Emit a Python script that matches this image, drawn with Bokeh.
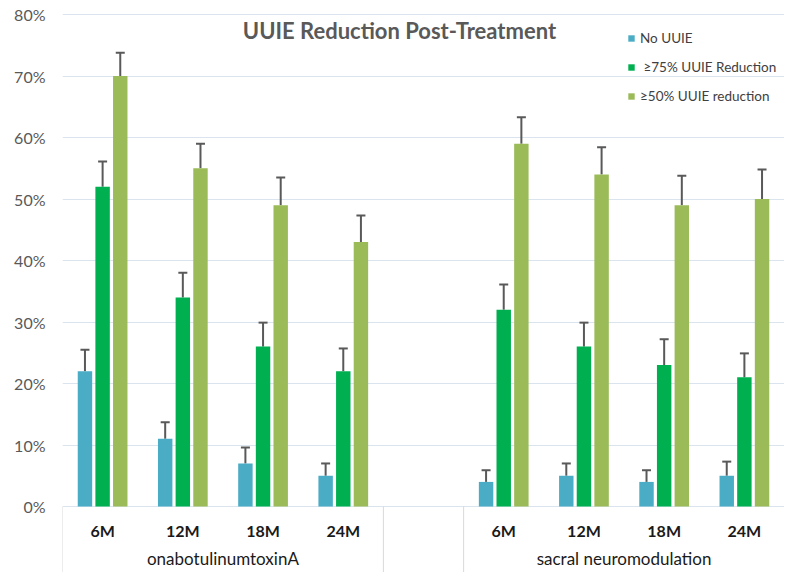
from bokeh.plotting import figure
from bokeh.models import (Range1d, FixedTicker, Whisker, TeeHead, ColumnDataSource,
                          Legend, LegendItem, Label, PrintfTickFormatter)
from bokeh.core.properties import value
from bokeh.embed import file_html
from bokeh.resources import INLINE

# ---- data ----
groups = ["onabotulinumtoxinA", "sacral neuromodulation"]
months = ["6M", "12M", "18M", "24M"]
series = ["No UUIE", " \u226575% UUIE Reduction", "\u226550% UUIE reduction"]
no_uuie = [22, 11, 7, 5, 4, 5, 4, 5]
red75 = [52, 34, 26, 22, 32, 26, 23, 21]
red50 = [70, 55, 49, 43, 59, 54, 49, 50]
no_uuie_hi = [25.5, 13.7, 9.6, 7.0, 5.9, 7.0, 5.9, 7.3]
red75_hi = [56.1, 38.0, 29.9, 25.7, 36.1, 29.9, 27.2, 24.9]
red50_hi = [73.8, 59.0, 53.5, 47.3, 63.3, 58.4, 53.8, 54.8]
y_ticks = [0, 10, 20, 30, 40, 50, 60, 70, 80]

colors = ["#4BACC6", "#00B050", "#9BBB59"]
FONT = "Lato"
Y_TOP, Y_BOT = 82.28, -10.73

# slot positions: 4 months per group, one empty slot between groups
slots = [g * (len(months) + 1) + m for g in range(len(groups)) for m in range(len(months))]
n_slots = len(groups) * len(months) + 1

p = figure(width=784, height=572, output_backend="svg", toolbar_location=None,
           x_range=Range1d(-0.5, n_slots - 0.5), y_range=Range1d(Y_BOT, Y_TOP),
           min_border_left=62, min_border_right=0, min_border_top=0, min_border_bottom=0)
p.outline_line_color = None
p.xaxis.visible = False
p.xgrid.visible = False
p.ygrid.ticker = FixedTicker(ticks=y_ticks)
p.ygrid.grid_line_color = "#d9e4ef"
p.ygrid.grid_line_width = 1
p.yaxis.ticker = FixedTicker(ticks=y_ticks)
p.yaxis.formatter = PrintfTickFormatter(format="%d%%")
p.yaxis.axis_line_color = None
p.yaxis.major_tick_line_color = None
p.yaxis.minor_tick_line_color = None
p.yaxis.major_tick_out = 0
p.yaxis.major_label_standoff = 17
p.yaxis.major_label_text_font = FONT
p.yaxis.major_label_text_font_size = "16px"
p.yaxis.major_label_text_color = "#595959"

offsets = [-0.22, 0.0, 0.22]
bar_w = 0.18
vals = [no_uuie, red75, red50]
his = [no_uuie_hi, red75_hi, red50_hi]
renderers = []
for k in range(3):
    xs = [s + offsets[k] for s in slots]
    src = ColumnDataSource(dict(x=xs, top=vals[k], hi=his[k]))
    r = p.vbar(x="x", top="top", width=bar_w, source=src, fill_color=colors[k], line_color=None)
    renderers.append(r)
    w = Whisker(source=src, base="x", upper="hi", lower="top", dimension="height",
                line_color="#595959", line_width=2,
                upper_head=TeeHead(size=9, line_color="#595959", line_width=2), lower_head=None)
    p.add_layout(w)

# separators in the category axis region
sep_x = [-0.5, len(months) - 0.5, len(months) + 0.5]
p.segment(x0=sep_x, y0=[0] * 3, x1=sep_x, y1=[Y_BOT] * 3, line_color="#d9d9d9", line_width=1)

# month labels
p.text(x=slots, y=[-3.9] * len(slots), text=months * len(groups),
       text_font=value(FONT), text_font_style="bold", text_font_size="16px",
       text_color="#1a1a1a", text_align="center", text_baseline="middle")
# group labels
gx = [g * (len(months) + 1) + (len(months) - 1) / 2 for g in range(len(groups))]
p.text(x=gx, y=[-8.5] * len(groups), text=groups,
       text_font=value(FONT), text_font_size="17px",
       text_color="#1a1a1a", text_align="center", text_baseline="middle")

# title
p.add_layout(Label(x=3.7, y=77.4, text="UUIE Reduction Post-Treatment",
                   text_font=FONT, text_font_style="bold", text_font_size="22px",
                   text_color="#595959", text_align="center", text_baseline="middle"))

legend = Legend(items=[LegendItem(label=series[k], renderers=[renderers[k]]) for k in range(3)],
                location=(565, 468), glyph_width=8, glyph_height=8, label_height=14,
                spacing=13, padding=0, margin=0, label_standoff=5,
                label_text_font=FONT, label_text_font_size="13.5px", label_text_color="#404040",
                background_fill_alpha=0, border_line_color=None)
p.add_layout(legend)

open("out.html", "w").write(file_html(p, INLINE))
